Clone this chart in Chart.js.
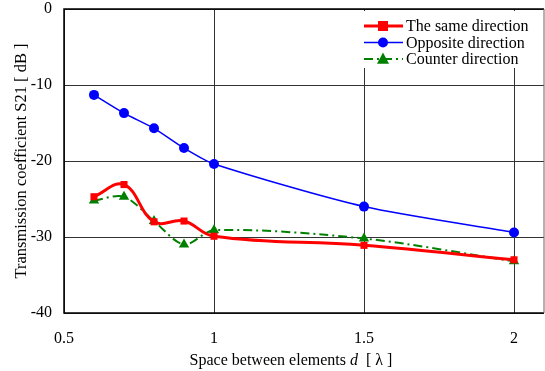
<!DOCTYPE html>
<html lang="en">
<head>
  <meta charset="UTF-8">
  <title>Transmission coefficient S21</title>
  <script src="https://cdn.jsdelivr.net/npm/chart.js"></script>
  <style>
    body { margin: 0; padding: 0; background: #fff; }
    canvas { display: block; }
  </style>
</head>
<body>
  <canvas id="s21Chart" width="545" height="371"></canvas>

  <script>
    // Spacing between elements, in wavelengths
    const spacing = [0.6, 0.7, 0.8, 0.9, 1.0, 1.5, 2.0];

    // S21 in dB for each arrangement
    const sameDirection = [-24.7, -23.1, -28.0, -27.9, -29.9, -31.1, -33.0];
    const oppositeDirection = [-11.3, -13.7, -15.7, -18.3, -20.4, -26.0, -29.4];
    const counterDirection = [-25.2, -24.7, -27.9, -31.0, -29.1, -30.2, -33.2];

    const xTicks = [0.5, 1, 1.5, 2];
    const yTicks = [0, -10, -20, -30, -40];

    const serif = '"Liberation Serif", "DejaVu Serif", serif';

    const toPoints = (vals) => vals.map((v, i) => ({ x: spacing[i], y: v }));

    // Legend box in the upper right, line + marker samples
    const legendPlugin = {
      id: 'boxLegend',
      afterDatasetsDraw(chart) {
        const { ctx } = chart;
        ctx.save();
        ctx.fillStyle = '#fff';
        ctx.fillRect(356, 11, 186, 57);
        ctx.font = '16px ' + serif;
        ctx.textBaseline = 'middle';
        chart.data.datasets.forEach((ds, i) => {
          const y = 26 + i * 16.5;
          ctx.strokeStyle = ds.borderColor;
          ctx.lineWidth = ds.borderWidth;
          ctx.setLineDash(ds.borderDash || []);
          ctx.beginPath();
          ctx.moveTo(364, y);
          ctx.lineTo(403, y);
          ctx.stroke();
          ctx.setLineDash([]);
          ctx.fillStyle = ds.pointBackgroundColor;
          const r = ds.pointRadius;
          ctx.beginPath();
          if (ds.pointStyle === 'rect') {
            ctx.rect(383 - r, y - r, r * 2, r * 2);
          } else if (ds.pointStyle === 'triangle') {
            ctx.moveTo(383, y - r * 1.1);
            ctx.lineTo(383 + r, y + r * 0.8);
            ctx.lineTo(383 - r, y + r * 0.8);
            ctx.closePath();
          } else {
            ctx.arc(383, y, r, 0, Math.PI * 2);
          }
          ctx.fill();
          ctx.fillStyle = '#000';
          ctx.fillText(ds.label, 406, y + 1);
        });
        ctx.restore();
      }
    };

    // Frame around the plot area, drawn on top of everything
    const framePlugin = {
      id: 'frame',
      afterDraw(chart) {
        const { ctx, chartArea: a } = chart;
        ctx.save();
        ctx.lineWidth = 1.5;
        ctx.strokeStyle = '#000';
        ctx.beginPath();
        ctx.moveTo(a.right, a.top);
        ctx.lineTo(a.left, a.top);
        ctx.lineTo(a.left, a.bottom);
        ctx.lineTo(a.right, a.bottom);
        ctx.stroke();
        ctx.strokeStyle = '#666';
        ctx.lineWidth = 1;
        ctx.beginPath();
        ctx.moveTo(a.right, a.top);
        ctx.lineTo(a.right, a.bottom);
        ctx.stroke();
        ctx.restore();
      }
    };

    // X axis title with italic d
    const xTitlePlugin = {
      id: 'xTitle',
      afterDraw(chart) {
        const { ctx } = chart;
        const parts = [
          { t: 'Space between elements ', f: '16px ' + serif },
          { t: 'd', f: 'italic 16px ' + serif },
          { t: '  [ \u03bb ]', f: '16px ' + serif }
        ];
        ctx.save();
        let total = 0;
        parts.forEach(p => { ctx.font = p.f; p.w = ctx.measureText(p.t).width; total += p.w; });
        let x = 291 - total / 2;
        ctx.fillStyle = '#000';
        ctx.textBaseline = 'middle';
        parts.forEach(p => { ctx.font = p.f; ctx.fillText(p.t, x, 361); x += p.w; });
        ctx.restore();
      }
    };

    const ctx = document.getElementById('s21Chart').getContext('2d');

    new Chart(ctx, {
      type: 'line',
      data: {
        datasets: [
          {
            label: 'The same direction',
            data: toPoints(sameDirection),
            borderColor: '#ff0000',
            backgroundColor: '#ff0000',
            pointBackgroundColor: '#ff0000',
            borderWidth: 3,
            pointStyle: 'rect',
            pointRadius: 5,
            pointBorderWidth: 0,
            tension: 0.4
          },
          {
            label: 'Opposite direction',
            data: toPoints(oppositeDirection),
            borderColor: '#0000ff',
            backgroundColor: '#0000ff',
            pointBackgroundColor: '#0000ff',
            borderWidth: 1.5,
            pointStyle: 'circle',
            pointRadius: 5,
            pointBorderWidth: 0,
            tension: 0.25
          },
          {
            label: 'Counter direction',
            data: toPoints(counterDirection),
            borderColor: '#008000',
            backgroundColor: '#008000',
            pointBackgroundColor: '#008000',
            borderWidth: 2,
            borderDash: [9, 4, 2, 4],
            pointStyle: 'triangle',
            pointRadius: 6,
            pointBorderWidth: 0,
            tension: 0.3
          }
        ]
      },
      options: {
        responsive: false,
        animation: false,
        layout: { autoPadding: false, padding: { top: 0, left: 0, bottom: 0, right: 1 } },
        plugins: {
          legend: { display: false },
          tooltip: { enabled: false }
        },
        scales: {
          x: {
            type: 'linear',
            min: 0.5,
            max: 2.1,
            afterBuildTicks(axis) { axis.ticks = xTicks.map(v => ({ value: v })); },
            afterFit(axis) {
              axis.height = 58;
              axis.paddingLeft = 0;
              axis.paddingRight = 0;
            },
            grid: { color: '#333', lineWidth: 1, drawTicks: false },
            border: { display: false },
            ticks: {
              color: '#000',
              padding: 16,
              maxRotation: 0,
              font: { family: serif, size: 16 },
              callback: v => String(v)
            }
          },
          y: {
            type: 'linear',
            min: -40,
            max: 0,
            afterBuildTicks(axis) { axis.ticks = yTicks.map(v => ({ value: v })); },
            afterFit(axis) {
              axis.width = 64;
              axis.paddingTop = 9;
              axis.paddingBottom = 0;
            },
            grid: { color: '#333', lineWidth: 1, drawTicks: false },
            border: { display: false },
            ticks: {
              color: '#000',
              padding: 12,
              font: { family: serif, size: 16 }
            },
            title: {
              display: true,
              text: 'Transmission coefficient S21 [ dB ]',
              color: '#000',
              padding: { top: 12, bottom: 0 },
              font: { family: serif, size: 16.5 }
            }
          }
        }
      },
      plugins: [legendPlugin, framePlugin, xTitlePlugin]
    });
  </script>
</body>
</html>
